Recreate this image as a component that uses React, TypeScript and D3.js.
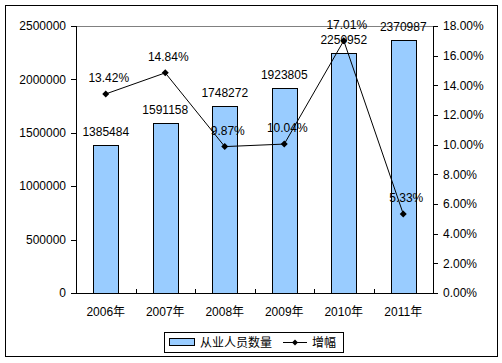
import React from 'react';
import * as d3 from 'd3';

// chart data
const years = ['2006年', '2007年', '2008年', '2009年', '2010年', '2011年'];
const workers = [1385484, 1591158, 1748272, 1923805, 2250952, 2370987];
const growth = [13.42, 14.84, 9.87, 10.04, 17.01, 5.33];
const leftTicks = [0, 500000, 1000000, 1500000, 2000000, 2500000];
const rightTicks = [0, 2, 4, 6, 8, 10, 12, 14, 16, 18];
const legendNames = ['从业人员数量', '增幅'];

const font = "Arial, 'Liberation Sans', 'Noto Sans CJK SC', sans-serif";

function Diamond({ x, y, r }: { x: number; y: number; r: number }) {
  return <path d={`M${x},${y - r}L${x + r},${y}L${x},${y + r}L${x - r},${y}Z`} fill="#000" />;
}

export default function App() {
  const width = 502;
  const height = 363;
  const left = 76, right = 433, top = 26, bottom = 293;

  const x = d3.scaleBand<string>().domain(years).range([left, right]);
  const yL = d3.scaleLinear().domain([0, 2500000]).range([bottom, top]);
  const yR = d3.scaleLinear().domain([0, 18]).range([bottom, top]);

  const barW = 25;
  const cx = (d: string) => (x(d) as number) + x.bandwidth() / 2;

  const line = d3.line<number>()
    .x((d, i) => cx(years[i]))
    .y(d => yR(d));

  return (
    <svg width={width} height={height} style={{ position: 'absolute', left: 0, top: 0, background: '#fff' }}
      fontFamily={font} fontSize={12}>
      <rect x={5.5} y={5.5} width={492} height={351} fill="#fff" stroke="#000" />

      {/* top gridline */}
      <line x1={left} x2={right} y1={top + 0.5} y2={top + 0.5} stroke="#808080" />

      {/* bars */}
      {workers.map((v, i) => (
        <rect key={'b' + i} x={Math.round(cx(years[i]) - barW / 2) + 0.5} y={Math.round(yL(v)) + 0.5}
          width={barW} height={bottom - Math.round(yL(v))} fill="#99CCFF" stroke="#000" />
      ))}

      {/* axes */}
      <line x1={left + 0.5} x2={left + 0.5} y1={top} y2={bottom} stroke="#000" />
      <line x1={right + 0.5} x2={right + 0.5} y1={top} y2={bottom} stroke="#000" />
      <line x1={left} x2={right + 1} y1={bottom + 0.5} y2={bottom + 0.5} stroke="#000" />

      {leftTicks.map(t => (
        <g key={'l' + t}>
          <line x1={left - 5} x2={left} y1={Math.round(yL(t)) + 0.5} y2={Math.round(yL(t)) + 0.5} stroke="#000" />
          <text x={66} y={yL(t)} dy="0.35em" textAnchor="end" fill="#000">{t}</text>
        </g>
      ))}
      {rightTicks.map(t => (
        <g key={'r' + t}>
          <line x1={right} x2={right + 5} y1={Math.round(yR(t)) + 0.5} y2={Math.round(yR(t)) + 0.5} stroke="#000" />
          <text x={443} y={yR(t)} dy="0.35em" fill="#000">{t.toFixed(2) + '%'}</text>
        </g>
      ))}
      {years.map((d, i) => (
        <g key={'x' + i}>
          {i > 0 && <line x1={Math.round(x(d) as number) + 0.5} x2={Math.round(x(d) as number) + 0.5}
            y1={bottom - 4} y2={bottom} stroke="#000" />}
          <text x={cx(d)} y={312} dy="0.35em" textAnchor="middle" fill="#000">{d}</text>
        </g>
      ))}

      {/* line series */}
      <path d={line(growth) as string} fill="none" stroke="#000" />
      {growth.map((v, i) => (
        <Diamond key={'m' + i} x={cx(years[i])} y={yR(v)} r={3.5} />
      ))}

      {/* data labels */}
      {workers.map((v, i) => (
        <text key={'bl' + i} x={cx(years[i])} y={yL(v) - 13} dy="0.35em" textAnchor="middle" fill="#000">{v}</text>
      ))}
      {growth.map((v, i) => (
        <text key={'gl' + i} x={cx(years[i]) + 3} y={yR(v) - 16} dy="0.35em" textAnchor="middle" fill="#000">
          {v.toFixed(2) + '%'}
        </text>
      ))}

      {/* legend */}
      <rect x={164.5} y={332.5} width={179} height={20} fill="#fff" stroke="#000" />
      <rect x={169.5} y={338.5} width={25} height={7} fill="#99CCFF" stroke="#000" />
      <text x={200} y={342.5} dy="0.35em" fill="#000">{legendNames[0]}</text>
      <line x1={283} x2={307} y1={342.5} y2={342.5} stroke="#000" />
      <Diamond x={295} y={342.5} r={3} />
      <text x={312} y={342.5} dy="0.35em" fill="#000">{legendNames[1]}</text>
    </svg>
  );
}
